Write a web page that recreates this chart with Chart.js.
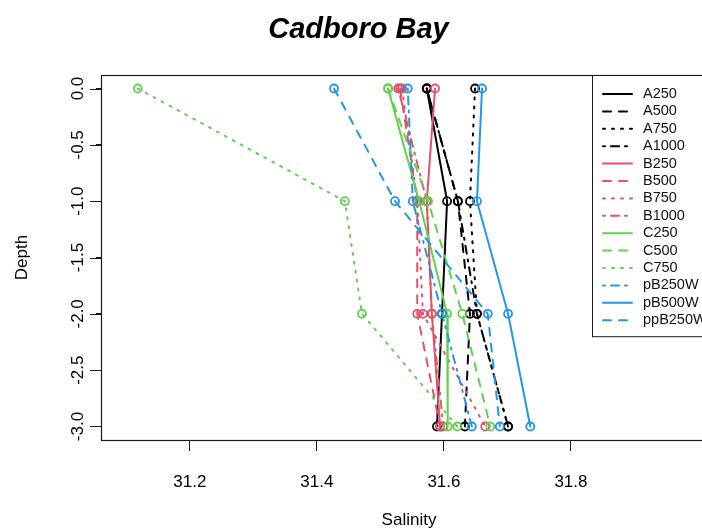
<!DOCTYPE html>
<html>
<head>
<meta charset="utf-8">
<title>Cadboro Bay</title>
<script src="https://cdn.jsdelivr.net/npm/chart.js"></script>
<style>
  html, body { margin: 0; padding: 0; background: #fff; overflow: hidden; }
  #wrap { width: 818px; height: 532px; }
</style>
</head>
<body>
<div id="wrap"><canvas id="myChart" width="818" height="532"></canvas></div>
<script>
// depth of each sample (m)
const depth = [0, -1, -2, -3];

// salinity per station, one value per depth
const A250    = [31.573, 31.605, 31.597, 31.589];
const A500    = [31.573, 31.622, 31.641, 31.633];
const A750    = [31.649, 31.641, 31.652, 31.701];
const A1000   = [31.573, 31.622, 31.652, 31.701];
const B250    = [31.586, 31.573, 31.581, 31.594];
const B500    = [31.531, 31.558, 31.558, 31.594];
const B750    = [31.534, 31.558, 31.567, 31.665];
const B1000   = [31.528, 31.573, 31.581, 31.599];
const C250    = [31.512, 31.561, 31.605, 31.606];
const C500    = [31.512, 31.575, 31.629, 31.673];
const C750    = [31.118, 31.444, 31.471, 31.621];
const pB250W  = [31.543, 31.551, 31.597, 31.644];
const pB500W  = [31.660, 31.652, 31.701, 31.736];
const ppB250W = [31.427, 31.523, 31.669, 31.688];

const stations = ['A250', 'A500', 'A750', 'A1000', 'B250', 'B500', 'B750', 'B1000',
                  'C250', 'C500', 'C750', 'pB250W', 'pB500W', 'ppB250W'];
const salinity = [A250, A500, A750, A1000, B250, B500, B750, B1000,
                  C250, C500, C750, pB250W, pB500W, ppB250W];

const xTicks = [31.2, 31.4, 31.6, 31.8];
const yTicks = [0, -0.5, -1, -1.5, -2, -2.5, -3];

// R-like palette and line types
const BLACK = '#000000', RED = '#DF536B', GREEN = '#61D04F', BLUE = '#2297E6';
const SOLID = [], DASHED = [8, 8], DOTTED = [2, 7], DOTDASH = [2, 6, 8, 6];
const estilos = [
  [BLACK, SOLID], [BLACK, DASHED], [BLACK, DOTTED], [BLACK, DOTDASH],
  [RED, SOLID], [RED, DASHED], [RED, DOTTED], [RED, DOTDASH],
  [GREEN, SOLID], [GREEN, DASHED], [GREEN, DOTTED],
  [BLUE, DOTDASH], [BLUE, SOLID], [BLUE, DASHED]
];

const FAMILY = '"Liberation Sans", Arial, Helvetica, sans-serif';
const axisFont = { family: FAMILY, size: 17 };
const TICK = 11;

// box around the plot region like box() in R, plus the y tick marks
const marco = {
  id: 'marco',
  afterDatasetsDraw(chart) {
    const a = chart.chartArea, ctx = chart.ctx;
    const y = chart.scales.y;
    ctx.save();
    ctx.strokeStyle = '#1a1a1a';
    ctx.lineWidth = 1.2;
    ctx.strokeRect(a.left + 0.5, a.top + 0.5, a.right - a.left, a.bottom - a.top);
    ctx.lineWidth = 1;
    ctx.beginPath();
    y.ticks.forEach(t => {
      const py = Math.round(y.getPixelForValue(t.value)) + 0.5;
      ctx.moveTo(a.left - TICK, py);
      ctx.lineTo(a.left, py);
    });
    ctx.stroke();
    ctx.restore();
  }
};

// legend in the top right corner of the plot
const leyenda = {
  id: 'leyenda',
  afterDraw(chart) {
    const a = chart.chartArea, ctx = chart.ctx;
    const sets = chart.data.datasets;
    const left = a.right - 125, top = a.top;
    const rowH = 17.4, firstY = a.top + 19;
    const bottom = firstY + rowH * (sets.length - 1) + 16;
    ctx.save();
    ctx.fillStyle = '#fff';
    ctx.fillRect(left, top, a.right - left, bottom - top);
    ctx.strokeStyle = '#1a1a1a';
    ctx.lineWidth = 1;
    ctx.strokeRect(left + 0.5, top + 0.5, a.right - left, bottom - top);
    ctx.font = '14.5px ' + FAMILY;
    ctx.textBaseline = 'middle';
    sets.forEach((ds, i) => {
      const y = firstY + i * rowH;
      ctx.strokeStyle = ds.borderColor;
      ctx.lineWidth = ds.borderWidth;
      ctx.lineCap = 'round';
      ctx.setLineDash(ds.borderDash);
      ctx.beginPath();
      ctx.moveTo(left + 11, y);
      ctx.lineTo(left + 40, y);
      ctx.stroke();
      ctx.setLineDash([]);
      ctx.fillStyle = '#111';
      ctx.fillText(ds.label, left + 51, y);
    });
    ctx.restore();
  }
};

function chart() {
  const n = stations.length;
  const datasets = stations.map((nombre, i) => ({
    label: nombre,
    data: depth.map((d, j) => ({ x: salinity[i][j], y: d })),
    showLine: true,
    fill: false,
    tension: 0,
    borderColor: estilos[i][0],
    borderWidth: 2,
    borderDash: estilos[i][1],
    borderCapStyle: 'round',
    pointStyle: 'circle',
    pointRadius: 4,
    pointBorderWidth: 1.8,
    pointBorderColor: estilos[i][0],
    pointBackgroundColor: 'rgba(0,0,0,0)',
    order: n - 1 - i
  }));

  const ctx = document.getElementById('myChart');
  new Chart(ctx, {
    type: 'scatter',
    data: { datasets: datasets },
    options: {
      responsive: false,
      animation: false,
      events: [],
      layout: { padding: { left: 0, right: 101, top: 0, bottom: 0 } },
      plugins: {
        legend: { display: false },
        tooltip: { enabled: false },
        title: {
          display: true,
          text: 'Cadboro Bay',
          color: '#000',
          font: { family: FAMILY, size: 29, weight: 'bold', style: 'italic' },
          padding: { top: 13, bottom: 27.2 }
        }
      },
      scales: {
        x: {
          type: 'linear',
          min: 31.06,
          max: 32.03,
          afterBuildTicks: (s) => { s.ticks = xTicks.map(v => ({ value: v })); },
          afterFit: (s) => { s.height = 92; },
          border: { display: false },
          grid: { drawOnChartArea: false, drawTicks: true, tickLength: TICK, color: '#1a1a1a', lineWidth: 1 },
          ticks: {
            color: '#000', font: axisFont, padding: 21, maxRotation: 0, autoSkip: false,
            callback: (v) => Number(v).toFixed(1)
          },
          title: { display: true, text: 'Salinity', color: '#000', font: axisFont, padding: { top: 0, bottom: 1 } }
        },
        y: {
          type: 'linear',
          min: -3.12,
          max: 0.12,
          afterBuildTicks: (s) => { s.ticks = yTicks.map(v => ({ value: v })); },
          afterFit: (s) => { s.width = 101; },
          border: { display: false },
          grid: { display: true, drawOnChartArea: false, drawTicks: true, tickLength: 5, color: '#1a1a1a' },
          ticks: {
            color: '#000', font: axisFont, minRotation: 90, maxRotation: 90, crossAlign: 'center', autoSkip: false,
            callback: (v) => Number(v).toFixed(1)
          },
          title: { display: true, text: 'Depth', color: '#000', font: axisFont, padding: { top: 12, bottom: 0 } }
        }
      }
    },
    plugins: [marco, leyenda]
  });
}

chart();
</script>
</body>
</html>
